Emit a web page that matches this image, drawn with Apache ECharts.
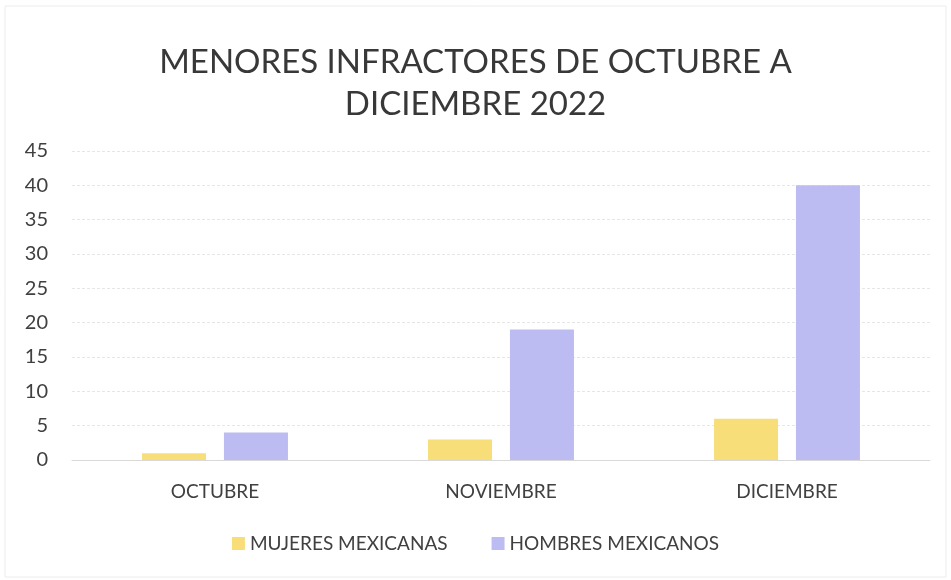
<!DOCTYPE html>
<html>
<head>
<meta charset="utf-8">
<script src="https://cdn.jsdelivr.net/npm/echarts@6/dist/echarts.min.js"></script>
<style>
  html, body { margin: 0; padding: 0; background: #fff; }
  #chart { width: 951px; height: 580px; }
</style>
</head>
<body>
<div id="chart"></div>
<script>
const categories = ['OCTUBRE', 'NOVIEMBRE', 'DICIEMBRE'];
const mujeres = [1, 3, 6];
const hombres = [4, 19, 40];
const seriesNames = ['MUJERES MEXICANAS', 'HOMBRES MEXICANOS'];

const chart = echarts.init(document.getElementById('chart'));
const font = 'Lato, "Open Sans", sans-serif';

const option = {
    backgroundColor: '#fff',
    textStyle: { fontFamily: font },
    // faint outline of the chart area, as in the scan
    graphic: [{
        type: 'rect',
        shape: { x: 5, y: 6, width: 941, height: 571 },
        style: { fill: 'none', stroke: '#ececec', lineWidth: 1 },
        silent: true,
    }],
    title: {
        text: 'MENORES INFRACTORES DE OCTUBRE A\nDICIEMBRE 2022',
        left: 'center',
        top: 36,
        textStyle: {
            fontFamily: font,
            fontSize: 33,
            fontWeight: 'normal',
            color: '#383838',
            lineHeight: 42,
        },
    },
    legend: {
        bottom: 22,
        left: 'center',
        itemWidth: 13,
        itemHeight: 13,
        itemGap: 44,
        icon: 'rect',
        textStyle: { fontFamily: font, fontSize: 19, color: '#404040' },
        data: seriesNames,
    },
    grid: {
        left: 72,
        right: 21,
        top: 151,
        bottom: 120,
    },
    xAxis: {
        type: 'category',
        data: categories,
        axisTick: { show: false },
        axisLine: { lineStyle: { color: '#d9d9d9' } },
        axisLabel: { fontFamily: font, fontSize: 19, color: '#404040', margin: 22 },
    },
    yAxis: {
        type: 'value',
        min: 0,
        max: 45,
        interval: 5,
        axisLine: { show: false },
        axisTick: { show: false },
        axisLabel: { fontFamily: font, fontSize: 20, color: '#404040', margin: 24, align: 'right' },
        splitLine: { lineStyle: { color: '#e6e6e6', type: [3, 2] } },
    },
    series: [
        {
            name: seriesNames[0],
            type: 'bar',
            data: mujeres,
            barWidth: 64,
            barGap: '28%',
            itemStyle: { color: '#f8de78' },
        },
        {
            name: seriesNames[1],
            type: 'bar',
            data: hombres,
            barWidth: 64,
            itemStyle: { color: '#bcbcf2' },
        },
    ],
};

chart.setOption(option);
</script>
</body>
</html>
